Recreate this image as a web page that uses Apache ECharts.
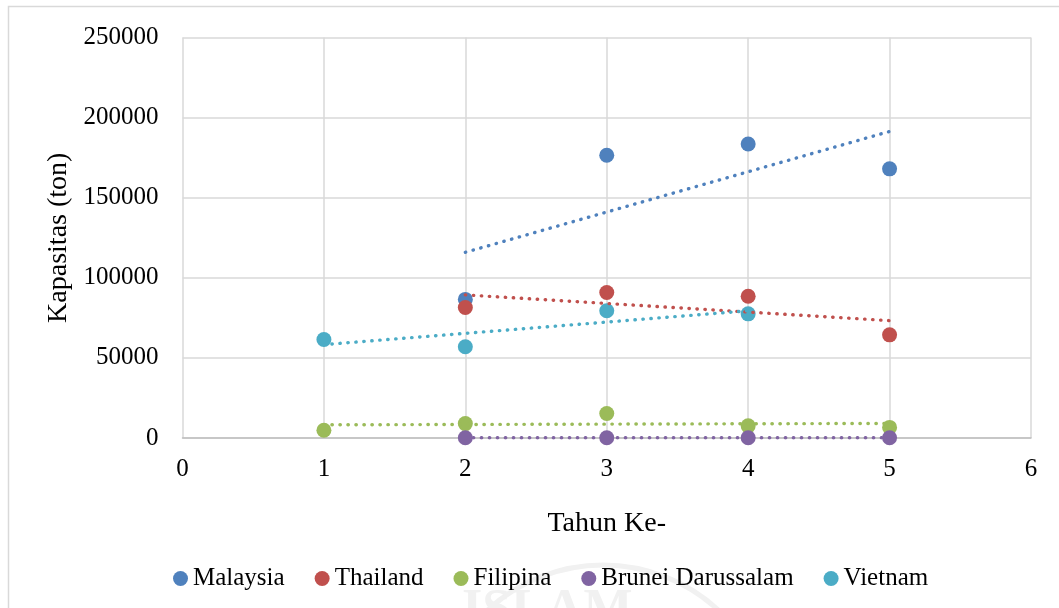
<!DOCTYPE html>
<html>
<head>
<meta charset="utf-8">
<title>Kapasitas (ton)</title>
<script src="https://cdn.jsdelivr.net/npm/echarts@6/dist/echarts.min.js"></script>
<style>
  html, body { margin: 0; padding: 0; background: #ffffff; }
  #chart { width: 1059px; height: 608px; }
</style>
</head>
<body>
<div id="chart"></div>
<script>
// Year index on the x axis
const years = [1, 2, 3, 4, 5];

// Capacity (ton) per country, null where there is no value for that year
const malaysia = [null, 86500, 176500, 183500, 168000];
const thailand = [null, 81500, 90800, 88500, 64400];
const filipina = [4800, 9000, 15300, 7600, 6600];
const brunei   = [null, 200, 180, 150, 120];
const vietnam  = [61500, 57000, 79400, 77500, null];

const countryNames = ['Malaysia', 'Thailand', 'Filipina', 'Brunei Darussalam', 'Vietnam'];
const countryValues = [malaysia, thailand, filipina, brunei, vietnam];
const countryColors = ['#4F81BD', '#C0504D', '#9BBB59', '#8064A2', '#4BACC6'];

const FONT = '"Liberation Serif", "DejaVu Serif", serif';

function points(values) {
  const out = [];
  values.forEach((v, i) => { if (v !== null) out.push([years[i], v]); });
  return out;
}

// Least-squares linear trend across the span of a series' points
function linearTrend(pts) {
  const n = pts.length;
  const mx = pts.reduce((s, p) => s + p[0], 0) / n;
  const my = pts.reduce((s, p) => s + p[1], 0) / n;
  let sxy = 0, sxx = 0;
  pts.forEach(p => { sxy += (p[0] - mx) * (p[1] - my); sxx += (p[0] - mx) * (p[0] - mx); });
  const slope = sxx ? sxy / sxx : 0;
  const x0 = pts[0][0], x1 = pts[n - 1][0];
  return [[x0, my + slope * (x0 - mx)], [x1, my + slope * (x1 - mx)]];
}

const scatterSeries = countryNames.map((name, i) => ({
  name: name,
  type: 'scatter',
  data: points(countryValues[i]),
  symbol: 'circle',
  symbolSize: 15,
  itemStyle: { color: countryColors[i], opacity: 1 },
  z: 2
}));

const trendSeries = countryNames.map((name, i) => ({
  name: name + ' (trend)',
  type: 'line',
  data: linearTrend(points(countryValues[i])),
  symbol: 'none',
  silent: true,
  lineStyle: { color: countryColors[i], width: 3.4, type: [0.4, 7.6], cap: 'round', opacity: 1 },
  z: 3
}));

const chart = echarts.init(document.getElementById('chart'), null, { renderer: 'canvas' });

chart.setOption({
  animation: false,
  backgroundColor: '#ffffff',
  textStyle: { fontFamily: FONT },
  graphic: [
    {
      type: 'circle',
      silent: true,
      z: -10,
      shape: { cx: 603, cy: 735, r: 170 },
      style: { fill: 'none', stroke: '#f1f1f1', lineWidth: 5 }
    },
    {
      type: 'text',
      silent: true,
      z: -10,
      left: 462,
      top: 586,
      style: { text: 'ISLAM', fontSize: 52, fontFamily: FONT, fontWeight: 'bold', fill: '#f1f1f1' }
    },
    {
      type: 'rect',
      silent: true,
      z: -5,
      shape: { x: 8.5, y: 6.5, width: 1100, height: 700 },
      style: { fill: 'none', stroke: '#d9d9d9', lineWidth: 1.5 }
    }
  ],
  grid: { left: 182.5, right: 28, top: 37.5, bottom: 170, containLabel: false },
  legend: {
    data: countryNames,
    left: 168,
    top: 561,
    icon: 'circle',
    itemWidth: 15,
    itemHeight: 15,
    itemGap: 30,
    textStyle: { fontFamily: FONT, fontSize: 25, color: '#000' }
  },
  xAxis: {
    type: 'value',
    min: 0,
    max: 6,
    interval: 1,
    name: 'Tahun Ke-',
    nameLocation: 'middle',
    nameGap: 72,
    nameTextStyle: { fontFamily: FONT, fontSize: 28, color: '#000' },
    axisLine: { show: true, onZero: true, lineStyle: { color: '#bfbfbf', width: 1.5 } },
    axisTick: { show: false },
    axisLabel: { margin: 19, fontFamily: FONT, fontSize: 25, color: '#000' },
    splitLine: { show: true, lineStyle: { color: '#d9d9d9', width: 1.5 } }
  },
  yAxis: {
    type: 'value',
    min: 0,
    max: 250000,
    interval: 50000,
    name: 'Kapasitas (ton)',
    nameLocation: 'middle',
    nameRotate: 90,
    nameGap: 100,
    nameTextStyle: { fontFamily: FONT, fontSize: 28, color: '#000' },
    axisLine: { show: false },
    axisTick: { show: false },
    axisLabel: {
      margin: 24,
      fontFamily: FONT,
      fontSize: 25,
      color: '#000',
      formatter: v => String(v)
    },
    splitLine: { show: true, lineStyle: { color: '#d9d9d9', width: 1.5 } }
  },
  series: scatterSeries.concat(trendSeries)
});
</script>
</body>
</html>
